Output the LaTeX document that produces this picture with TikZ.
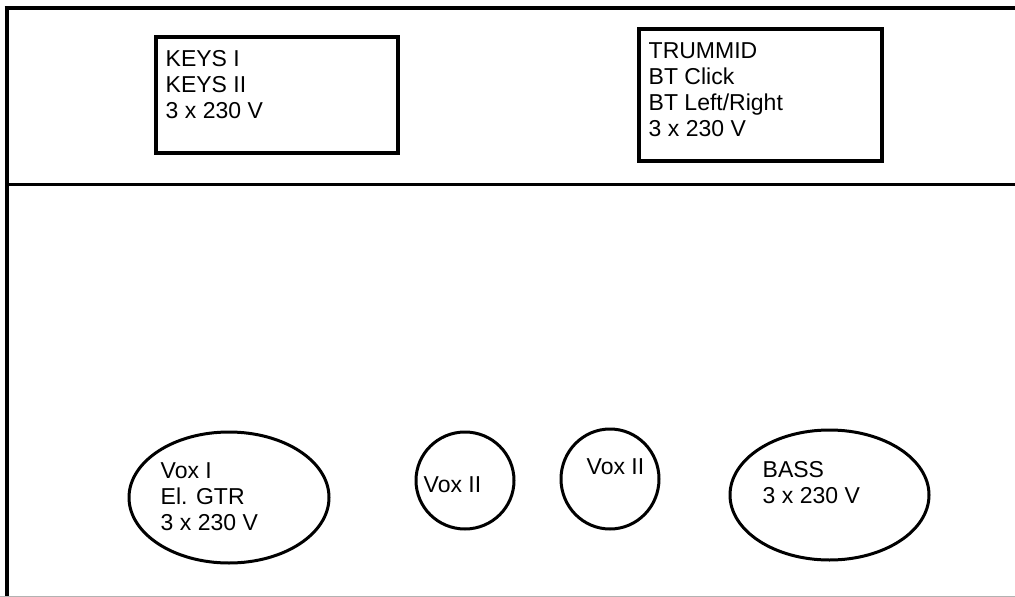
\documentclass[tikz,border=0pt]{standalone}
\usepackage{fontspec}
\setmainfont{Liberation Sans}
\usetikzlibrary{shapes.geometric}
\tikzset{
  wall/.style={line width=3.5pt},
  box/.style={draw, line width=3.5pt, anchor=north west, inner sep=0pt, outer sep=0pt},
  spot/.style={draw, ellipse, line width=3pt, inner sep=0pt, outer sep=0pt},
  lbl/.style={anchor=north west, align=left, inner sep=0pt, font=\fontsize{23}{26}\selectfont}
}
\begin{document}
\begin{tikzpicture}[x=1pt,y=-1pt]
    \useasboundingbox (0,0) rectangle (1015,597);
    % stage outline
    \coordinate (tl) at (4.5,8);
    \coordinate (tr) at (1015,8);
    \coordinate (lt) at (7,6);
    \coordinate (lb) at (7,597);
    \coordinate (ml) at (7,184.5);
    \coordinate (mr) at (1015,184.5);
    \draw [wall] (tl) -- (tr);
    \draw [wall] (lt) -- (lb);
    \draw [wall] (ml) -- (mr);
    \draw [gray!60, line width=1pt] (0,596) -- (1015,596);

    % risers at the back
    \node [box, minimum width=242pt, minimum height=116pt] (keys) at (156,37) {};
    \node [box, minimum width=243pt, minimum height=132pt] (trummid) at (639,29) {};
    \node [lbl] (keys-txt) at (165.5,50.5) {KEYS I\\KEYS II\\3 x 230 V};
    \node [lbl] (trummid-txt) at (648.5,42.5) {TRUMMID\\BT Click\\BT Left/Right\\3 x 230 V};

    % front line
    \node [spot, minimum width=200pt, minimum height=131pt] (voxgtr) at (229,497.5) {};
    \node [spot, minimum width=98pt, minimum height=97pt] (voxa) at (465,480.5) {};
    \node [spot, minimum width=98pt, minimum height=100pt] (voxb) at (610,479) {};
    \node [spot, minimum width=199pt, minimum height=130pt] (bass) at (829.5,495) {};
    \node [lbl] (voxgtr-txt) at (160.5,462.5) {Vox I\\El. GTR\\3 x 230 V};
    \node [lbl] (voxa-txt) at (423.5,476.5) {Vox II};
    \node [lbl] (voxb-txt) at (586.5,458.5) {Vox II};
    \node [lbl] (bass-txt) at (762.5,461.5) {BASS\\3 x 230 V};
\end{tikzpicture}
\end{document}
